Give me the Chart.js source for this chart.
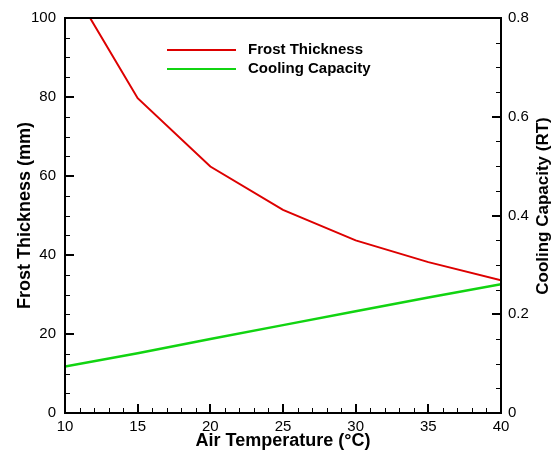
<!DOCTYPE html>
<html>
<head>
<meta charset="utf-8">
<script src="https://cdn.jsdelivr.net/npm/chart.js@4.4.1/dist/chart.umd.min.js"></script>
<style>
  html, body { margin: 0; padding: 0; background: #fff; }
  #wrap { width: 556px; height: 454px; }
</style>
</head>
<body>
<div id="wrap"><canvas id="frostChart"></canvas></div>
<script>
// air temperature (°C)
const temps = [10, 15, 20, 25, 30, 35, 40];
// frost thickness (mm), left axis
const frostThickness = [110.7, 79.7, 62.4, 51.4, 43.7, 38.2, 33.6];
// cooling capacity (RT), right axis
const coolingCapacity = [0.094, 0.121, 0.150, 0.178, 0.206, 0.234, 0.261];

const FONT = "'Liberation Sans', Arial, sans-serif";

// tecplot-ish frame: border, inward major/minor ticks, legend, right title
const framePlugin = {
    id: 'frame',
    afterDatasetsDraw(chart) {
        const ctx = chart.ctx;
        const a = chart.chartArea;
        ctx.save();
        ctx.strokeStyle = '#000';

        const tickSet = (scale, minor, horiz, side) => {
            for (let v = scale.min; v <= scale.max + 1e-9; v += minor) {
                const isMajor = Math.abs(v / scale.options.ticks.stepSize - Math.round(v / scale.options.ticks.stepSize)) < 1e-6;
                const len = isMajor ? 9 : 5;
                ctx.lineWidth = isMajor ? 2 : 1;
                const p = Math.round(scale.getPixelForValue(v)) + (isMajor ? 0 : 0.5);
                ctx.beginPath();
                if (horiz) {
                    ctx.moveTo(p, a.bottom);
                    ctx.lineTo(p, a.bottom - len);
                } else if (side === 'left') {
                    ctx.moveTo(a.left, p);
                    ctx.lineTo(a.left + len, p);
                } else {
                    ctx.moveTo(a.right, p);
                    ctx.lineTo(a.right - len, p);
                }
                ctx.stroke();
            }
        };
        tickSet(chart.scales.x, 1, true);
        tickSet(chart.scales.y, 5, false, 'left');
        tickSet(chart.scales.y1, 0.05, false, 'right');

        ctx.lineWidth = 2;
        ctx.strokeRect(a.left, a.top, a.right - a.left, a.bottom - a.top);

        // legend
        ctx.font = 'bold 15px ' + FONT;
        ctx.textBaseline = 'middle';
        ctx.textAlign = 'left';
        chart.data.datasets.forEach((ds, i) => {
            const y = 50 + i * 19;
            ctx.strokeStyle = ds.borderColor;
            ctx.lineWidth = 2;
            ctx.beginPath();
            ctx.moveTo(167, y);
            ctx.lineTo(236, y);
            ctx.stroke();
            ctx.fillStyle = '#000';
            ctx.fillText(ds.label, 248, y);
        });

        // right axis title, reading bottom to top
        ctx.translate(543, 206);
        ctx.rotate(-Math.PI / 2);
        ctx.textAlign = 'center';
        ctx.font = 'bold 17px ' + FONT;
        ctx.fillText('Cooling Capacity (RT)', 0, 0);
        ctx.restore();
    }
};

new Chart(document.getElementById('frostChart'), {
    type: 'line',
    data: {
        datasets: [
            {
                label: 'Frost Thickness',
                data: temps.map((t, i) => ({ x: t, y: frostThickness[i] })),
                borderColor: '#dd0000',
                borderWidth: 2,
                pointRadius: 0,
                tension: 0,
                yAxisID: 'y'
            },
            {
                label: 'Cooling Capacity',
                data: temps.map((t, i) => ({ x: t, y: coolingCapacity[i] })),
                borderColor: '#11d411',
                borderWidth: 2.5,
                pointRadius: 0,
                tension: 0,
                yAxisID: 'y1'
            }
        ]
    },
    options: {
        responsive: true,
        maintainAspectRatio: false,
        animation: false,
        layout: { padding: { top: 15, left: 0, right: 0, bottom: 0 } },
        plugins: { legend: { display: false }, tooltip: { enabled: false } },
        scales: {
            x: {
                type: 'linear',
                min: 10,
                max: 40,
                afterFit: s => { s.height = 41; },
                grid: { display: false, drawTicks: false },
                border: { display: false },
                ticks: {
                    stepSize: 5, autoSkip: false, maxRotation: 0, padding: 5,
                    color: '#000', font: { family: FONT, size: 15 }
                },
                title: {
                    display: true, text: 'Air Temperature (°C)', color: '#000',
                    font: { family: FONT, size: 18, weight: 'bold' }, padding: { top: 0, bottom: 2 }
                }
            },
            y: {
                position: 'left',
                min: 0,
                max: 100,
                afterFit: s => { s.width = 65; },
                grid: { display: false, drawTicks: false },
                border: { display: false },
                ticks: {
                    stepSize: 20, padding: 9,
                    color: '#000', font: { family: FONT, size: 15 }
                },
                title: {
                    display: true, text: 'Frost Thickness (mm)', color: '#000',
                    font: { family: FONT, size: 18, weight: 'bold' }, padding: { top: 14, bottom: 0 }
                }
            },
            y1: {
                position: 'right',
                min: 0,
                max: 0.8,
                afterFit: s => { s.width = 55; },
                grid: { display: false, drawTicks: false },
                border: { display: false },
                ticks: {
                    stepSize: 0.2, padding: 7,
                    color: '#000', font: { family: FONT, size: 15 }
                }
            }
        }
    },
    plugins: [framePlugin]
});
</script>
</body>
</html>
